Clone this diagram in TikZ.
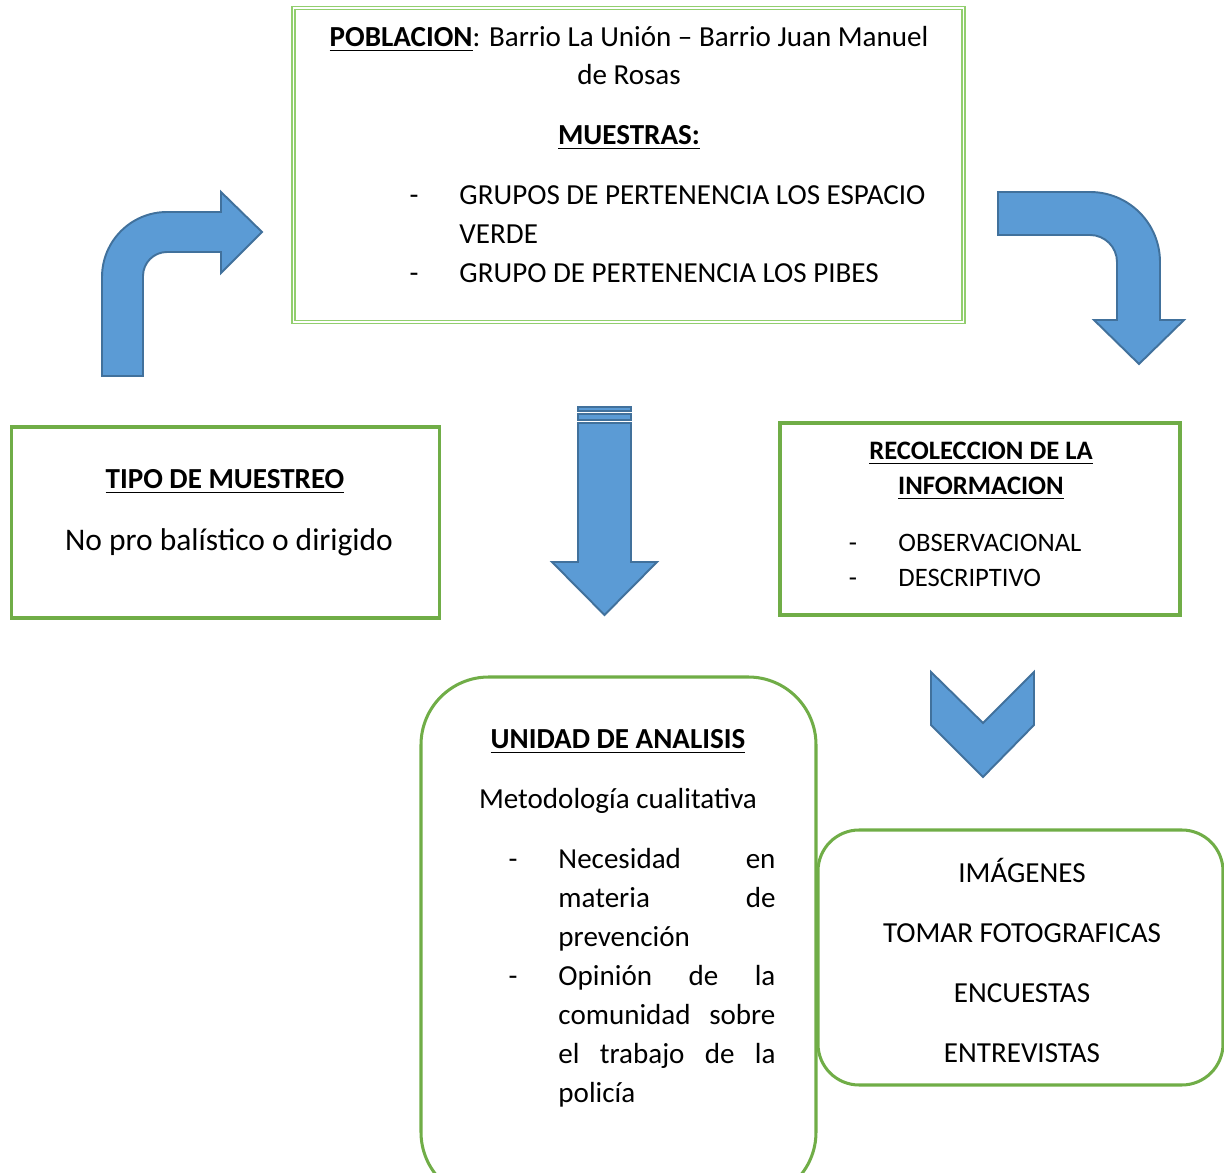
\documentclass[tikz,border=0pt]{standalone}
\usepackage{fontspec}
\setmainfont{Carlito}
\definecolor{verde}{RGB}{112,173,71}
\definecolor{verdeclaro}{RGB}{146,206,110}
\definecolor{azul}{RGB}{91,155,213}
\definecolor{azulosc}{RGB}{65,113,156}
\begin{document}
\begin{tikzpicture}[x=0.413pt,y=-0.413pt,
  caja/.style={draw=verde, line width=1.25pt},
  flecha/.style={fill=azul, draw=azulosc, line width=0.8pt},
  txt/.style={inner sep=0pt, font=\fontsize{12}{15.7}\selectfont},
  txtp/.style={inner sep=0pt, font=\fontsize{11}{14.5}\selectfont}]
\useasboundingbox (0,0) rectangle (1224,1173);
\clip (0,0) rectangle (1224,1173);

\node(Pob)[draw=verdeclaro, double, double distance=0.8pt, line width=0.45pt, minimum width=670*0.413pt, minimum height=314*0.413pt] at (628.5,165){};
\node(Tipo)[caja, minimum width=428*0.413pt, minimum height=191*0.413pt] at (225.5,522.5){};
\node(Reco)[caja, minimum width=400*0.413pt, minimum height=192*0.413pt] at (980,519){};
\node(Unidad)[caja, rounded corners=28pt, minimum width=395*0.413pt, minimum height=523*0.413pt] at (618.5,938.5){};
\node(Tecnicas)[caja, rounded corners=17pt, minimum width=405*0.413pt, minimum height=255*0.413pt] at (1020.5,957.5){};

\node(PobT)[txt, anchor=base, align=center] at (629,84.5){\underline{\textbf{POBLACION}}: Barrio La Unión – Barrio Juan Manuel\\de Rosas};
\node(Muestras)[txt, anchor=base] at (629,144.5){\underline{\textbf{MUESTRAS:}}};
\node(Grupos)[txt, anchor=base west, align=left, font=\fontsize{12}{16.1}\selectfont] at (459,282.5){GRUPOS DE PERTENENCIA LOS ESPACIO\\VERDE\\GRUPO DE PERTENENCIA LOS PIBES};
\node(G1)[txt, anchor=base] at (414,204.5){-};
\node(G2)[txt, anchor=base] at (414,282.5){-};

\node(TipoT)[txt, anchor=base] at (225,488.5){\underline{\textbf{TIPO DE MUESTREO}}};
\node(NoPro)[txt, anchor=base, font=\fontsize{13}{16}\selectfont] at (229,551){No pro balístico o dirigido};

\node(RecoT)[txtp, anchor=base, align=center] at (981,494.7){\underline{\textbf{RECOLECCION DE LA}}\\\underline{\textbf{INFORMACION}}};
\node(Obs)[txtp, anchor=base west, align=left] at (898,586.7){OBSERVACIONAL\\DESCRIPTIVO};
\node(R1)[txtp, anchor=base] at (853,551.7){-};
\node(R2)[txtp, anchor=base] at (853,586.7){-};

\node(UnidadT)[txt, anchor=base] at (618,748.5){\underline{\textbf{UNIDAD DE ANALISIS}}};
\node(Met)[txt, anchor=base] at (618,809){Metodología cualitativa};
\node(Nec)[txt, anchor=base west, text width=217*0.413pt, font=\fontsize{12}{16.1}\selectfont] at (558,868.5){Necesidad\hfill en\\materia\hfill de\\prevención\\Opinión\hfill de\hfill la\\comunidad\hfill sobre\\el\hfill trabajo\hfill de\hfill la\\policía};
\node(U1)[txt, anchor=base] at (513,868.5){-};
\node(U2)[txt, anchor=base] at (513,985.5){-};

\node(TecT)[txt, anchor=base, align=center, font=\fontsize{12}{24.8}\selectfont] at (1022,1062.5){IMÁGENES\\TOMAR FOTOGRAFICAS\\ENCUESTAS\\ENTREVISTAS};

\draw[flecha] (102,376) -- (102,277) .. controls (102,241.1) and (131.1,212) .. (167,212) -- (221,212) -- (221,192) -- (262,232) -- (221,273) -- (221,252) -- (167,252) .. controls (153.75,252) and (143,262.75) .. (143,276) -- (143,376) -- cycle;
\draw[flecha] (998,192) -- (1090,192) .. controls (1128.7,192) and (1160,223.3) .. (1160,262) -- (1160,320) -- (1184,320) -- (1139,364) -- (1094,320) -- (1117,320) -- (1117,262) .. controls (1117,247.1) and (1104.9,235) .. (1090,235) -- (998,235) -- cycle;
\draw[flecha] (578,407) rectangle (631,411);
\draw[flecha] (578,414) rectangle (631,420);
\draw[flecha] (578,423) -- (631,423) -- (631,562) -- (657,562) -- (604.5,615) -- (552,562) -- (578,562) -- cycle;
\draw[flecha] (931,672) -- (983,723) -- (1034,672) -- (1034,725) -- (983,777) -- (931,725) -- cycle;
\end{tikzpicture}
\end{document}
